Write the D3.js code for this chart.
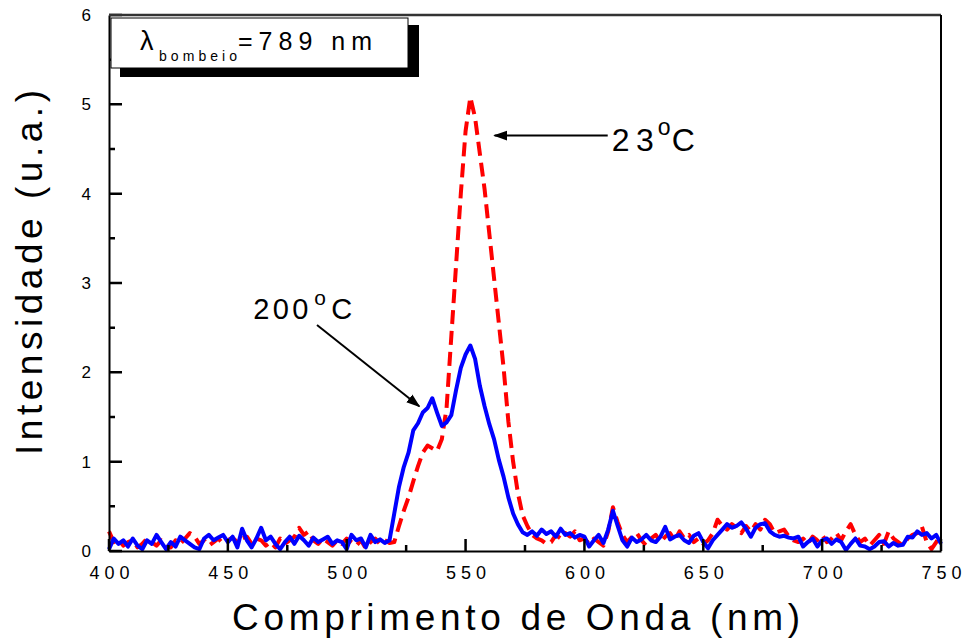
<!DOCTYPE html>
<html>
<head>
<meta charset="utf-8">
<script src="https://cdn.jsdelivr.net/npm/d3@7"></script>
<style>
  body { margin: 0; background: #fff; }
  text { font-family: "Liberation Sans", Arial, sans-serif; fill: #000; }
</style>
</head>
<body>
<svg id="chart" width="964" height="642"></svg>
<script>
// sampling grid of the spectra (nm), one point every 2 nm
const wavelength = d3.range(400, 751, 2);

// 200 °C spectrum (blue, solid)
const spec200 = [
  0.02, 0.14, 0.08, 0.12, 0.05, 0.14, 0.06, 0.02, 0.12, 0.08,   // 400-418
  0.18, 0.10, 0.02, 0.10, 0.05, 0.16, 0.12, 0.08, 0.04, 0.02,   // 420-438
  0.14, 0.18, 0.12, 0.15, 0.18, 0.10, 0.16, 0.04, 0.25, 0.12,   // 440-458
  0.04, 0.14, 0.26, 0.12, 0.16, 0.08, 0.02, 0.10, 0.16, 0.08,   // 460-478
  0.17, 0.12, 0.06, 0.15, 0.10, 0.13, 0.16, 0.08, 0.12, 0.10,   // 480-498
  0.02, 0.18, 0.12, 0.14, 0.04, 0.18, 0.10, 0.13, 0.09, 0.12,   // 500-518
  0.42, 0.72, 0.94, 1.10, 1.35, 1.43, 1.55, 1.60, 1.71, 1.55,   // 520-538
  1.40, 1.44, 1.52, 1.80, 2.05, 2.20, 2.30, 2.15, 1.85, 1.62,   // 540-558
  1.42, 1.25, 1.02, 0.83, 0.60, 0.42, 0.30, 0.21, 0.18, 0.22,   // 560-578
  0.17, 0.24, 0.19, 0.22, 0.16, 0.25, 0.18, 0.20, 0.15, 0.18,   // 580-598
  0.16, 0.05, 0.12, 0.18, 0.09, 0.24, 0.45, 0.28, 0.12, 0.05,   // 600-618
  0.15, 0.10, 0.13, 0.18, 0.12, 0.10, 0.16, 0.27, 0.13, 0.16,   // 620-638
  0.18, 0.12, 0.09, 0.17, 0.20, 0.10, 0.03, 0.12, 0.18, 0.24,   // 640-658
  0.30, 0.26, 0.28, 0.32, 0.25, 0.16, 0.26, 0.30, 0.31, 0.22,   // 660-678
  0.18, 0.16, 0.17, 0.15, 0.14, 0.16, 0.05, 0.10, 0.14, 0.05,   // 680-698
  0.12, 0.14, 0.08, 0.13, 0.10, 0.01, 0.08, 0.14, 0.06, 0.05,   // 700-718
  0.02, 0.05, 0.10, 0.11, 0.05, 0.09, 0.06, 0.07, 0.16, 0.15,   // 720-738
  0.22, 0.18, 0.20, 0.14, 0.18, 0.08                            // 740-750
];

// 23 °C spectrum (red, dashed)
const spec23 = [
  0.22, 0.10, 0.13, 0.06, 0.10, 0.12, 0.04, 0.08, 0.14, 0.10,   // 400-418
  0.06, 0.12, 0.09, 0.04, 0.12, 0.08, 0.14, 0.20, 0.16, 0.08,   // 420-438
  0.12, 0.06, 0.10, 0.14, 0.08, 0.12, 0.15, 0.10, 0.14, 0.16,   // 440-458
  0.08, 0.14, 0.12, 0.06, 0.10, 0.04, 0.14, 0.08, 0.12, 0.16,   // 460-478
  0.26, 0.18, 0.22, 0.12, 0.08, 0.14, 0.10, 0.06, 0.12, 0.08,   // 480-498
  0.14, 0.10, 0.06, 0.12, 0.03, 0.10, 0.14, 0.08, 0.12, 0.09,   // 500-518
  0.10, 0.28, 0.45, 0.60, 0.78, 0.95, 1.10, 1.18, 1.15, 1.12,   // 520-538
  1.25, 1.60, 2.40, 3.20, 4.00, 4.70, 5.08, 4.85, 4.45, 4.05,   // 540-558
  3.55, 3.05, 2.55, 2.05, 1.45, 1.00, 0.65, 0.40, 0.28, 0.18,   // 560-578
  0.14, 0.12, 0.08, 0.10, 0.18, 0.14, 0.20, 0.16, 0.22, 0.12,   // 580-598
  0.14, 0.08, 0.14, 0.10, 0.06, 0.22, 0.49, 0.32, 0.18, 0.10,   // 600-618
  0.16, 0.20, 0.12, 0.06, 0.14, 0.18, 0.10, 0.16, 0.20, 0.12,   // 620-638
  0.22, 0.14, 0.18, 0.10, 0.14, 0.08, 0.12, 0.20, 0.35, 0.28,   // 640-658
  0.24, 0.30, 0.26, 0.20, 0.28, 0.22, 0.30, 0.24, 0.35, 0.30,   // 660-678
  0.20, 0.22, 0.24, 0.16, 0.12, 0.10, 0.14, 0.08, 0.16, 0.12,   // 680-698
  0.18, 0.10, 0.14, 0.20, 0.12, 0.22, 0.30, 0.18, 0.10, 0.14,   // 700-718
  0.06, 0.12, 0.18, 0.08, 0.22, 0.14, 0.10, 0.06, 0.14, 0.18,   // 720-738
  0.20, 0.27, 0.10, 0.02, 0.10, 0.18                            // 740-750
];

const xMajor = [400, 450, 500, 550, 600, 650, 700, 750];
const xMinor = [425, 475, 525, 575, 625, 675, 725];
const yMajor = [0, 1, 2, 3, 4, 5, 6];
const yMinor = [0.5, 1.5, 2.5, 3.5, 4.5, 5.5];

const svg = d3.select("#chart");
const plot = { left: 109, right: 941, top: 15, bottom: 551 };

const x = d3.scaleLinear().domain([400, 750]).range([plot.left, plot.right]);
const y = d3.scaleLinear().domain([0, 6]).range([plot.bottom, plot.top]);

// arrowhead
svg.append("defs").append("marker")
    .attr("id", "head")
    .attr("viewBox", "0 0 10 10")
    .attr("refX", 9).attr("refY", 5)
    .attr("markerWidth", 7).attr("markerHeight", 7)
    .attr("markerUnits", "strokeWidth")
    .attr("orient", "auto")
  .append("path")
    .attr("d", "M0,1.5 L10,5 L0,8.5 Z")
    .attr("fill", "#000");

// --- spectra ---
const line = d3.line()
    .x((d, i) => x(wavelength[i]))
    .y(d => y(d));

svg.append("path")
    .datum(spec23)
    .attr("d", line)
    .attr("fill", "none")
    .attr("stroke", "#ff0000")
    .attr("stroke-width", 4)
    .attr("stroke-dasharray", "14,7")
    .attr("stroke-linejoin", "round");

svg.append("path")
    .datum(spec200)
    .attr("d", line)
    .attr("fill", "none")
    .attr("stroke", "#0000ff")
    .attr("stroke-width", 4)
    .attr("stroke-linejoin", "round");

// --- axis lines and labels ---
const xAxis = svg.append("g").attr("transform", `translate(0,${plot.bottom})`)
    .call(d3.axisBottom(x).tickValues(xMajor).tickSize(0).tickPadding(15).tickFormat(d3.format("d")));
const yAxis = svg.append("g").attr("transform", `translate(${plot.left},0)`)
    .call(d3.axisLeft(y).tickValues(yMajor).tickSize(0).tickPadding(18).tickFormat(d3.format("d")));

svg.selectAll(".domain").attr("stroke", "#000").attr("stroke-width", 2);

xAxis.selectAll("text")
    .attr("font-size", 18)
    .attr("textLength", 40)
    .attr("lengthAdjust", "spacing");
yAxis.selectAll("text").attr("font-size", 17);

// --- tick marks, drawn inward ---
const tickPath = [];
xMajor.forEach(v => tickPath.push(`M${x(v)},${plot.bottom}V${plot.bottom - 12}`));
xMinor.forEach(v => tickPath.push(`M${x(v)},${plot.bottom}V${plot.bottom - 6}`));
yMajor.forEach(v => tickPath.push(`M${plot.left},${y(v)}H${plot.left + 13}`));
yMinor.forEach(v => tickPath.push(`M${plot.left},${y(v)}H${plot.left + 6}`));
svg.append("path")
    .attr("d", tickPath.join(""))
    .attr("fill", "none")
    .attr("stroke", "#000")
    .attr("stroke-width", 2.5);

// top and right frame
svg.append("line").attr("x1", plot.left).attr("x2", plot.right).attr("y1", plot.top).attr("y2", plot.top)
    .attr("stroke", "#333").attr("stroke-width", 2.5);
svg.append("line").attr("x1", plot.right).attr("x2", plot.right).attr("y1", plot.top).attr("y2", plot.bottom)
    .attr("stroke", "#000").attr("stroke-width", 2);

// --- axis titles ---
svg.append("text")
    .attr("x", 232).attr("y", 630)
    .attr("font-size", 37)
    .attr("textLength", 568).attr("lengthAdjust", "spacing")
    .text("Comprimento de Onda (nm)");

svg.append("text")
    .attr("transform", "translate(42,455) rotate(-90)")
    .attr("font-size", 37)
    .attr("textLength", 365).attr("lengthAdjust", "spacing")
    .text("Intensidade (u.a.)");

// --- pump wavelength box ---
svg.append("rect").attr("x", 120).attr("y", 25).attr("width", 299).attr("height", 52).attr("fill", "#000");
svg.append("rect").attr("x", 111).attr("y", 18).attr("width", 297).attr("height", 50)
    .attr("fill", "#fff").attr("stroke", "#000").attr("stroke-width", 1);
svg.append("text").attr("x", 140).attr("y", 50).attr("font-size", 27).text("λ");
svg.append("text").attr("x", 159).attr("y", 61).attr("font-size", 14)
    .attr("textLength", 78).attr("lengthAdjust", "spacing").text("bombeio");
svg.append("text").attr("x", 238).attr("y", 50).attr("font-size", 25)
    .attr("textLength", 134).attr("lengthAdjust", "spacing").text("=789 nm");

// --- annotations (data coordinates) ---
const ann23 = { from: [609.8, 4.65], to: [562.2, 4.65], label: [611.5, 4.48] };
const ann200 = { from: [487.5, 2.53], to: [530.5, 1.62], label: [460.7, 2.6] };

[ann23, ann200].forEach(a => {
  svg.append("line")
      .attr("x1", x(a.from[0])).attr("y1", y(a.from[1]))
      .attr("x2", x(a.to[0])).attr("y2", y(a.to[1]))
      .attr("stroke", "#000").attr("stroke-width", 2)
      .attr("marker-end", "url(#head)");
});

function degLabel(a, digits, size, digitsWidth, oOff, cOff) {
  const lx = x(a.label[0]), ly = y(a.label[1]);
  svg.append("text").attr("x", lx).attr("y", ly).attr("font-size", size)
      .attr("textLength", digitsWidth).attr("lengthAdjust", "spacing").text(digits);
  svg.append("text").attr("x", lx + digitsWidth + oOff).attr("y", ly - size * 0.48)
      .attr("font-size", size * 0.72).text("o");
  svg.append("text").attr("x", lx + digitsWidth + cOff).attr("y", ly).attr("font-size", size).text("C");
}
degLabel(ann23, "23", 32, 42, 4, 18);
degLabel(ann200, "200", 29, 55, 6, 23);
</script>
</body>
</html>
